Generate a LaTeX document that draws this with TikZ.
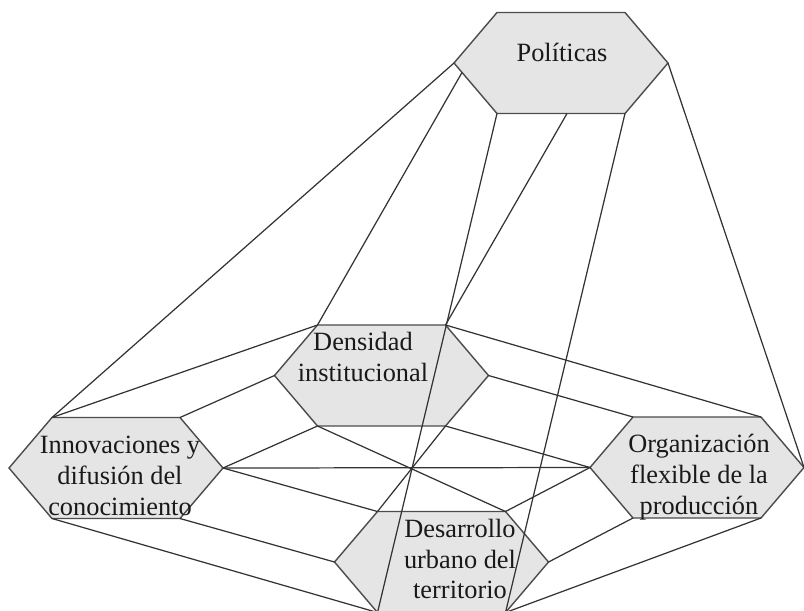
\documentclass[tikz,border=0pt]{standalone}
\usepackage{fontspec}
\setmainfont{Liberation Serif}
\tikzset{
    hexa/.style={fill=black!10, draw=black!70, line width=0.8pt, line join=miter},
    link/.style={draw=black!80, line width=0.7pt},
    caption/.style={align=center, inner sep=0pt, text=black!90, font=\fontsize{15}{17.5}\selectfont},
}

\begin{document}
\begin{tikzpicture}[x=0.02cm, y=-0.02cm]
        %fix the frame
        \useasboundingbox (0,0) rectangle (804,610);
        %corners and body of the hexagons
        \foreach \n/\x/\y in {pol/561/63, den/381.5/375.5, inn/116/468, org/697/467.5, des/441.5/562}{
            \coordinate (\n-l) at (\x-107,\y);
            \coordinate (\n-tl) at (\x-64,\y-50.5);
            \coordinate (\n-tr) at (\x+64,\y-50.5);
            \coordinate (\n-r) at (\x+107,\y);
            \coordinate (\n-br) at (\x+64,\y+50.5);
            \coordinate (\n-bl) at (\x-64,\y+50.5);
            \draw[hexa] (\n-l) -- (\n-tl) -- (\n-tr) -- (\n-r) -- (\n-br) -- (\n-bl) -- cycle;
        }
        %extra points on the lower side of the top hexagon
        \coordinate (pol-ll) at (462,72.5);
        \coordinate (pol-bm) at (567,113.5);
        %lines down from the top hexagon
        \draw[link] (pol-l) -- (inn-tl);
        \draw[link] (pol-ll) -- (den-tl);
        \draw[link] (pol-bl) -- (des-bl);
        \draw[link] (pol-bm) -- (den-tr);
        \draw[link] (pol-br) -- (des-br);
        \draw[link] (pol-r) -- (org-r);
        %lines from the left hexagon
        \draw[link] (inn-tl) -- (den-tl);
        \draw[link] (inn-tr) -- (den-l);
        \draw[link] (inn-r) -- (den-bl);
        \draw[link] (inn-r) -- (des-tl);
        \draw[link] (inn-r) -- (org-l);
        \draw[link] (inn-br) -- (des-l);
        \draw[link] (inn-bl) -- (des-bl);
        %lines from the back hexagon
        \draw[link] (den-tr) -- (org-tr);
        \draw[link] (den-r) -- (org-tl);
        \draw[link] (den-br) -- (org-l);
        \draw[link] (den-bl) -- (des-tr);
        \draw[link] (den-br) -- (des-tl);
        %lines from the right hexagon
        \draw[link] (org-l) -- (des-tr);
        \draw[link] (org-bl) -- (des-r);
        \draw[link] (org-br) -- (des-br);
        %label the hexagons
        \node[caption] (tpol) at (562,52) {Políticas};
        \node[caption] (tden) at (363,357) {Densidad\\institucional};
        \node[caption] (tinn) at (120,476) {Innovaciones y\\difusión del\\conocimiento};
        \node[caption] (torg) at (699,477) {Organización\\flexible de la\\producción};
        \node[caption] (tdes) at (460,559) {Desarrollo\\urbano del\\territorio};
    \end{tikzpicture}
\end{document}
